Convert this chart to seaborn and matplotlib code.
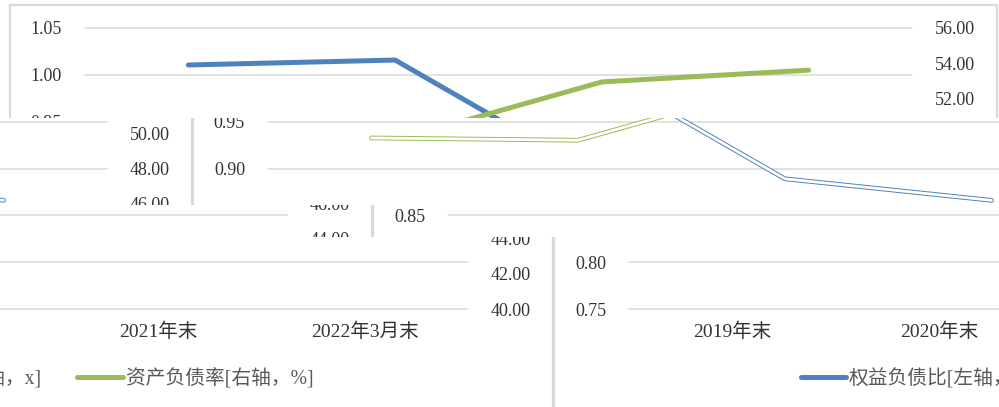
import numpy as np
import pandas as pd
import matplotlib.pyplot as plt
import seaborn as sns
from matplotlib.patches import Rectangle
from matplotlib.transforms import Bbox, TransformedBbox

categories = ['2019年末', '2020年末', '2021年末', '2022年3月末']
equity_debt = [1.0105, 1.0158, 0.889, 0.866]   # 权益负债比, left axis
debt_asset = [49.74, 49.61, 52.93, 53.60]      # 资产负债率 (%), right axis
left_ticks = [0.75, 0.80, 0.85, 0.90, 0.95, 1.00, 1.05]
right_ticks = [40, 42, 44, 46, 48, 50, 52, 54, 56]
blue_label = '权益负债比[左轴，x]'
green_label = '资产负债率[右轴，%]'

BLUE = '#4f81bd'
GREEN = '#9bbb59'
GRID = '#d9d9d9'

W, H = 999, 407
# the picture is torn into horizontal strips (top, bottom in px) and each strip is
# slid sideways by some pixels, wrapping round with this period
strips = [(0, 118, 0), (118, 205, 183), (205, 237, 363), (237, 407, 544)]
period = 988

df = pd.DataFrame({'period': categories, 'equity_debt': equity_debt, 'debt_asset': debt_asset})

sns.set_style('white')
plt.rcParams['font.family'] = ['Liberation Serif', 'Noto Sans CJK SC']

fig = plt.figure(figsize=(W / 100, H / 100), dpi=100)


def draw_copy(dx, top, bottom, hollow, with_legend):
    clip = TransformedBbox(Bbox([[0, (H - bottom) / H], [1, (H - top) / H]]), fig.transFigure)

    frame = Rectangle(((10 + dx) / W, -0.2), 987 / W, (H - 5) / H + 0.2,
                      transform=fig.transFigure, fill=False, ec=GRID, lw=1.6)
    fig.add_artist(frame, clip=True)
    frame.set_clip_box(clip)

    ax = fig.add_axes([(85 + dx) / W, 98 / H, 827 / W, 281 / H])
    ax2 = ax.twinx()
    for a in (ax, ax2):
        a.patch.set_visible(False)
        for s in a.spines.values():
            s.set_visible(False)

    lw = 3.4 if hollow else 3.6
    sns.lineplot(data=df, x='period', y='equity_debt', ax=ax, color=BLUE,
                 lw=lw, sort=False, label=blue_label, legend=False)
    sns.lineplot(data=df, x='period', y='debt_asset', ax=ax2, color=GREEN,
                 lw=lw, sort=False, label=green_label, legend=False)
    if hollow:
        # lower strips show the lines as thin outlines
        sns.lineplot(data=df, x='period', y='equity_debt', ax=ax, color='white', lw=2.0, sort=False, legend=False)
        sns.lineplot(data=df, x='period', y='debt_asset', ax=ax2, color='white', lw=2.0, sort=False, legend=False)

    ax.set_xlim(-0.5, 3.5)
    ax.set_ylim(0.75, 1.05)
    ax2.set_ylim(40, 56)
    ax.set_xticks(range(len(categories)))
    ax.set_xticklabels(categories)
    ax.set_yticks(left_ticks)
    ax.set_yticklabels([f'{v:.2f}' for v in left_ticks])
    ax2.set_yticks(right_ticks)
    ax2.set_yticklabels([f'{v:.2f}' for v in right_ticks])
    for a in (ax, ax2):
        a.set_xlabel('')
        a.set_ylabel('')
    ax.grid(axis='y', color=GRID, lw=1.1)
    ax.grid(axis='x', visible=False)
    ax.set_axisbelow(True)
    ax.tick_params(axis='y', length=0, pad=16.5, labelsize=13, labelcolor='#333333')
    ax2.tick_params(axis='y', length=0, pad=16.5, labelsize=13, labelcolor='#333333')
    ax.tick_params(axis='x', length=0, pad=9.5, labelsize=14, labelcolor='#333333')

    if with_legend:
        handles = [plt.Line2D([], [], color=BLUE, lw=3.6, solid_capstyle='round'),
                   plt.Line2D([], [], color=GREEN, lw=3.6, solid_capstyle='round')]
        fig.legend(handles, [blue_label, green_label], loc='center', ncol=2, frameon=False,
                   bbox_to_anchor=((507 + dx) / W, (H - 379) / H), bbox_transform=fig.transFigure,
                   fontsize=14.2, labelcolor='#595959', handlelength=2.3, handletextpad=0.15,
                   columnspacing=1.8)

    for a in (ax, ax2):
        for art in a.findobj():
            if art is a:
                continue
            art.set_clip_on(True)
            art.set_clip_box(clip)


for top, bottom, shift in strips:
    shifts = [shift] if shift == 0 else [shift, shift - period]
    for dx in shifts:
        draw_copy(dx, top, bottom, hollow=shift != 0, with_legend=bottom >= 390)

fig.savefig('out.png', dpi=100)
plt.close(fig)
